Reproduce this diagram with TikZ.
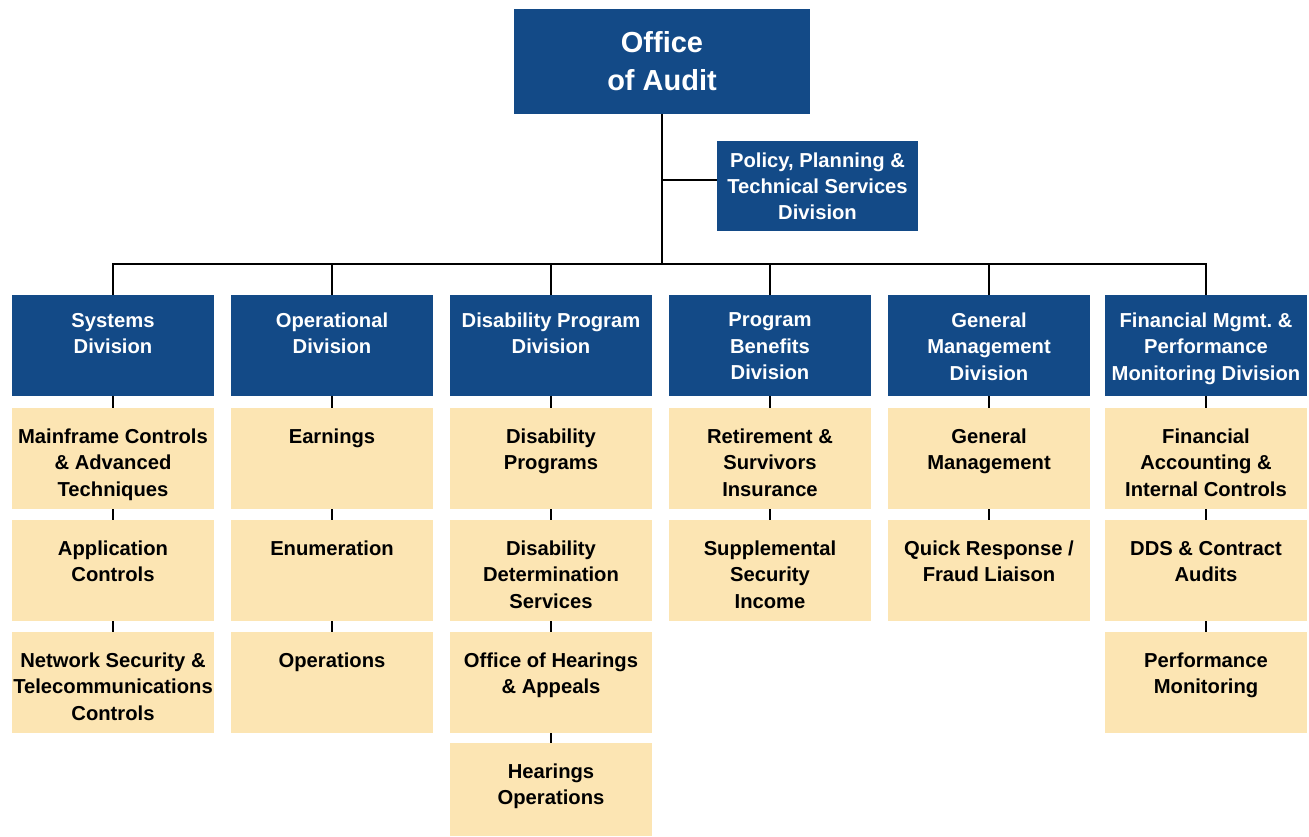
\documentclass[tikz,border=0pt]{standalone}
\usepackage{fontspec}
\setmainfont{Liberation Sans}
\definecolor{oablue}{HTML}{134A87}
\definecolor{oatan}{HTML}{FCE5B3}
\def\wire{\draw[line width=1.5pt]}
\frenchspacing

\begin{document}
\begin{tikzpicture}[x=0.02cm,y=-0.02cm,
        div/.style={fill=oablue,minimum width=4.04cm,minimum height=2.02cm,inner sep=0},
        grp/.style={fill=oatan,minimum width=4.04cm,minimum height=2.02cm,inner sep=0},
        dtxt/.style={anchor=north,yshift=-0.36cm,inner sep=0,align=center,text=white,
            font=\bfseries\fontsize{11.5}{15}\selectfont},
        gtxt/.style={anchor=north,yshift=-0.42cm,inner sep=0,align=center,
            font=\bfseries\fontsize{11.5}{15}\selectfont}]
                \useasboundingbox (0,0) rectangle (1309,837);
                % head office
                \node[fill=oablue,minimum width=5.92cm,minimum height=2.1cm,align=center,text=white,
                    font=\bfseries\fontsize{16.5}{21.5}\selectfont] (top) at (662,61.5) {Office\\of Audit};
                \node[div,minimum width=4.02cm,minimum height=1.8cm,align=center,text=white,
                    font=\bfseries\fontsize{11.5}{14.7}\selectfont] (pol) at (817.5,186)
                    {Policy, Planning \&\\Technical Services\\Division};
                \path ([yshift=0.12cm]pol.west) coordinate (pin);
                \coordinate (hub) at (662,264);
                % divisions
                \node[div,label={[dtxt]north:Systems\\Division}] (sys) at (113,345.5) {};
                \node[div,label={[dtxt]north:Operational\\Division}] (ops) at (332,345.5) {};
                \node[div,label={[dtxt]north:Disability Program\\Division}] (dis) at (551,345.5) {};
                \node[div,label={[dtxt]north:Program\\Benefits\\Division}] (ben) at (770,345.5) {};
                \node[div,label={[dtxt]north:General\\Management\\Division}] (gen) at (989,345.5) {};
                \node[div,label={[dtxt]north:Financial Mgmt. \&\\Performance\\Monitoring Division}] (fin) at (1206,345.5) {};
                % groups
                \node[grp,label={[gtxt]north:Mainframe Controls\\\& Advanced\\Techniques}] (mfc) at (113,458.5) {};
                \node[grp,label={[gtxt]north:Application\\Controls}] (app) at (113,570.5) {};
                \node[grp,label={[gtxt]north:Network Security \&\\Telecommunications\\Controls}] (net) at (113,682.5) {};
                \node[grp,label={[gtxt]north:Earnings}] (ear) at (332,458.5) {};
                \node[grp,label={[gtxt]north:Enumeration}] (enu) at (332,570.5) {};
                \node[grp,label={[gtxt]north:Operations}] (opr) at (332,682.5) {};
                \node[grp,label={[gtxt]north:Disability\\Programs}] (dpr) at (551,458.5) {};
                \node[grp,label={[gtxt]north:Disability\\Determination\\Services}] (dds) at (551,570.5) {};
                \node[grp,label={[gtxt]north:Office of Hearings\\\& Appeals}] (oha) at (551,682.5) {};
                \node[grp,minimum height=1.86cm,label={[gtxt]north:Hearings\\Operations}] (hop) at (551,789.5) {};
                \node[grp,label={[gtxt]north:Retirement \&\\Survivors\\Insurance}] (rsi) at (770,458.5) {};
                \node[grp,label={[gtxt]north:Supplemental\\Security\\Income}] (ssi) at (770,570.5) {};
                \node[grp,label={[gtxt]north:General\\Management}] (gmt) at (989,458.5) {};
                \node[grp,label={[gtxt]north:Quick Response /\\Fraud Liaison}] (qrf) at (989,570.5) {};
                \node[grp,label={[gtxt]north:Financial\\Accounting \&\\Internal Controls}] (fac) at (1206,458.5) {};
                \node[grp,label={[gtxt]north:DDS \& Contract\\Audits}] (dca) at (1206,570.5) {};
                \node[grp,label={[gtxt]north:Performance\\Monitoring}] (pmo) at (1206,682.5) {};
                % lines
                \wire (top) -- (hub);
                \wire (top |- pin) -- (pin);
                \wire (sys.north) |- (hub) -| (fin.north);
                \foreach \n in {ops,dis,ben,gen}
                    \wire (\n.north) -- (\n.north |- hub);
                \foreach \a/\b in {sys/mfc,mfc/app,app/net,ops/ear,ear/enu,enu/opr,dis/dpr,dpr/dds,dds/oha,
                        oha/hop,ben/rsi,rsi/ssi,gen/gmt,gmt/qrf,fin/fac,fac/dca,dca/pmo}
                    \wire (\a.south) -- (\b.north);
            \end{tikzpicture}
\end{document}
